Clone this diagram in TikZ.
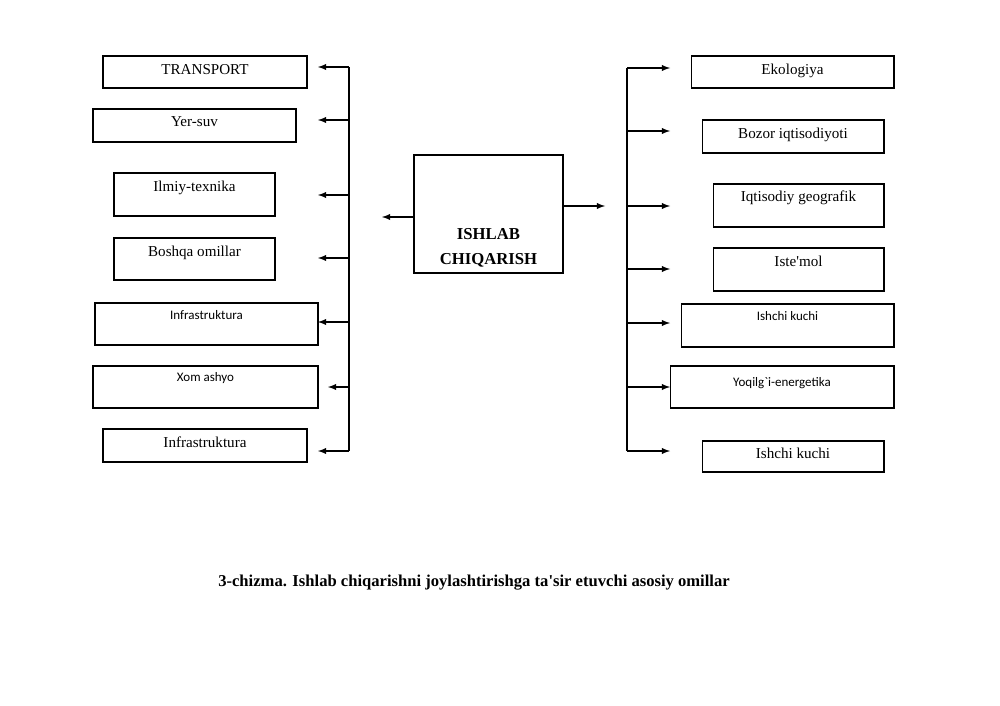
\documentclass[tikz,border=0pt]{standalone}
\usepackage{fontspec}
\setmainfont{Liberation Serif}
\newfontfamily\calfont{Carlito}
\usetikzlibrary{arrows}

\begin{document}
\begin{tikzpicture}[x=0.02cm, y=-0.02cm, >=latex,
  box/.style={draw, line width=0.6pt, inner xsep=0pt, inner ysep=0pt, anchor=base,
    font=\fontsize{8.6}{10}\selectfont},
  sbox/.style={box, font=\calfont\fontsize{7.4}{9}\selectfont},
  trunk/.style={line width=0.6pt},
  link/.style={->, line width=0.6pt}]
  \useasboundingbox (0,0) rectangle (1000,706);

  % left column
  \node[box, minimum width=4.08cm, text height=0.36cm, text depth=0.28cm] (tr) at (205,74) {TRANSPORT};
  \node[box, minimum width=4.06cm, text height=0.36cm, text depth=0.30cm] (ys) at (194.5,127) {Yer-suv};
  \node[box, minimum width=3.22cm, text height=0.36cm, text depth=0.50cm] (it) at (194.5,191) {Ilmiy-texnika};
  \node[box, minimum width=3.22cm, text height=0.36cm, text depth=0.48cm] (bo) at (194.5,256) {Boshqa omillar};
  \node[sbox, minimum width=4.46cm, text height=0.32cm, text depth=0.52cm] (inf) at (206.5,319) {Infrastruktura};
  \node[sbox, minimum width=4.50cm, text height=0.30cm, text depth=0.54cm] (xa) at (205.5,381) {Xom ashyo};
  \node[box, minimum width=4.08cm, text height=0.36cm, text depth=0.30cm] (infb) at (205,447) {Infrastruktura};

  % center
  \node[box, minimum width=2.98cm, text height=2.18cm, text depth=0.18cm,
    font=\bfseries\fontsize{9.5}{13.7}\selectfont] (ic) at (488.5,264)
    {\begin{tabular}[b]{@{}c@{}}ISHLAB\\CHIQARISH\end{tabular}};

  % right column
  \node[box, minimum width=4.06cm, text height=0.36cm, text depth=0.28cm] (ek) at (792.5,74) {Ekologiya};
  \node[box, minimum width=3.64cm, text height=0.36cm, text depth=0.30cm] (bz) at (793,138) {Bozor iqtisodiyoti};
  \node[box, minimum width=3.42cm, text height=0.34cm, text depth=0.52cm] (ig) at (798.5,201) {Iqtisodiy geografik};
  \node[box, minimum width=3.42cm, text height=0.36cm, text depth=0.50cm] (im) at (798.5,266) {Iste\textquotesingle mol};
  \node[sbox, minimum width=4.26cm, text height=0.32cm, text depth=0.54cm] (ik) at (787.5,320) {Ishchi kuchi};
  \node[sbox, minimum width=4.48cm, text height=0.40cm, text depth=0.44cm] (ye) at (782,386) {Yoqilg`i-energetika};
  \node[box, minimum width=3.64cm, text height=0.34cm, text depth=0.28cm] (ikb) at (793,458) {Ishchi kuchi};

  \node[font=\bfseries\fontsize{9.45}{11}\selectfont] (cap) at (474,583)
    {3-chizma. Ishlab chiqarishni joylashtirishga ta\textquotesingle sir etuvchi asosiy omillar};

  % trunks and arrow tips
  \coordinate (ltop) at (349,67);
  \coordinate (lbot) at (349,451);
  \coordinate (a1) at (318,67);
  \coordinate (a2) at (318,120);
  \coordinate (a3) at (318,195);
  \coordinate (a4) at (318,258);
  \coordinate (a5) at (318,322);
  \coordinate (a6) at (328,387);
  \coordinate (a7) at (318,451);
  \coordinate (rtop) at (627,68);
  \coordinate (rbot) at (627,451);
  \coordinate (b1) at (670,68);
  \coordinate (b2) at (670,131);
  \coordinate (b3) at (670,206);
  \coordinate (b4) at (670,269);
  \coordinate (b5) at (670,323);
  \coordinate (b6) at (670,387);
  \coordinate (b7) at (670,451);
  \coordinate (cl) at (382,217);
  \coordinate (cr) at (605,206);

  \draw[trunk] (ltop) -- (lbot);
  \draw[trunk] (rtop) -- (rbot);
  \path[link]
  (ltop) edge (a1)
  (ltop |- a2) edge (a2)
  (ltop |- a3) edge (a3)
  (ltop |- a4) edge (a4)
  (ltop |- a5) edge (a5)
  (ltop |- a6) edge (a6)
  (lbot) edge (a7)
  (rtop) edge (b1)
  (rtop |- b2) edge (b2)
  (rtop |- b3) edge (b3)
  (rtop |- b4) edge (b4)
  (rtop |- b5) edge (b5)
  (rtop |- b6) edge (b6)
  (rbot) edge (b7)
  (ic.west |- cl) edge (cl)
  (ic.east |- cr) edge (cr);
\end{tikzpicture}
\end{document}
